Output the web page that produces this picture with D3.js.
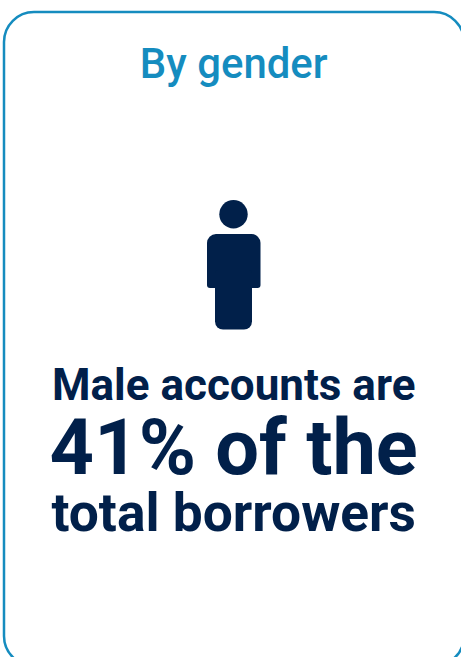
<!DOCTYPE html>
<html>
<head>
<meta charset="utf-8">
<script src="https://cdn.jsdelivr.net/npm/d3@7/dist/d3.min.js"></script>
<style>
html,body{margin:0;padding:0;background:#fff;overflow:hidden}
svg{display:block}
text{font-family:Roboto,sans-serif;text-anchor:middle}
</style>
</head>
<body>
<script>
// Summary card content
const title = "By gender";
const malePercent = 41;
const statementLines = [
  {text: "Male accounts are", size: 44, baseline: 400},
  {text: `${malePercent}% of the`, size: 77.6, baseline: 474},
  {text: "total borrowers", size: 53.3, baseline: 531}
];
const navy = "#01204a";
const blue = "#158cbf";
const centerX = 233.7;

const svg = d3.select("body").append("svg").attr("width", 461).attr("height", 657);

svg.append("rect")
  .attr("x", 4).attr("y", 12).attr("width", 460).attr("height", 654)
  .attr("rx", 30).attr("ry", 30)
  .attr("fill", "#fff").attr("stroke", blue).attr("stroke-width", 2.5);

svg.append("text")
  .attr("x", centerX).attr("y", 78)
  .attr("font-size", 41.9).attr("font-weight", 500)
  .attr("fill", blue).text(title);

// Person pictogram: head, torso with arms, legs
function roundedBox(x, y, w, h, top, bottom) {
  const p = d3.path();
  p.moveTo(x + top, y);
  p.lineTo(x + w - top, y);
  p.arcTo(x + w, y, x + w, y + top, top);
  p.lineTo(x + w, y + h - bottom);
  p.arcTo(x + w, y + h, x + w - bottom, y + h, bottom);
  p.lineTo(x + bottom, y + h);
  p.arcTo(x, y + h, x, y + h - bottom, bottom);
  p.lineTo(x, y + top);
  p.arcTo(x, y, x + top, y, top);
  p.closePath();
  return p.toString();
}
const person = svg.append("g").attr("fill", navy);
person.append("circle").attr("cx", 233.5).attr("cy", 214.2).attr("r", 14.2);
person.append("path").attr("d", roundedBox(207, 234, 53.5, 54, 9, 3));
person.append("path").attr("d", roundedBox(215, 270, 37, 59.5, 3, 8));

svg.selectAll("text.statement")
  .data(statementLines)
  .join("text")
  .attr("class", "statement")
  .attr("x", centerX)
  .attr("y", d => d.baseline)
  .attr("font-size", d => d.size)
  .attr("font-weight", 700)
  .attr("fill", navy)
  .text(d => d.text);
</script>
</body>
</html>
